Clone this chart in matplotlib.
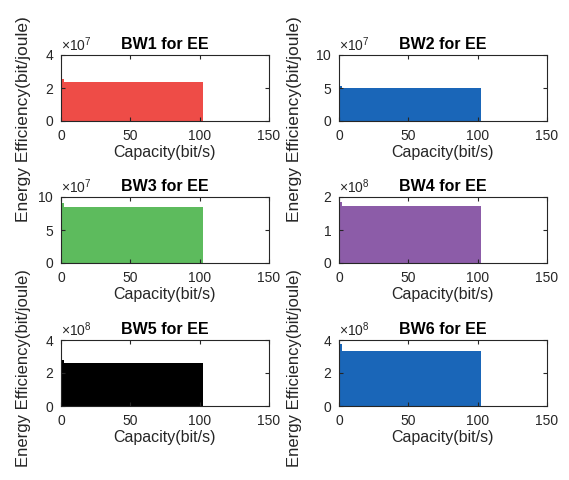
import numpy as np
import matplotlib
matplotlib.use("Agg")
import matplotlib.pyplot as plt
from matplotlib.ticker import ScalarFormatter

plt.rcParams['font.family'] = ['Liberation Sans', 'DejaVu Sans']
plt.rcParams['mathtext.fontset'] = 'custom'
plt.rcParams['mathtext.rm'] = 'Liberation Sans'
plt.rcParams['mathtext.default'] = 'regular'

# data
titles = ['BW1 for EE', 'BW2 for EE', 'BW3 for EE', 'BW4 for EE', 'BW5 for EE', 'BW6 for EE']
capacity = np.arange(1, 103)          # bit/s
n_peak = 2                            # first bars sit a bit higher
ee_peak = [2.55e7, 5.3e7, 9.1e7, 1.84e8, 2.78e8, 3.75e8]
ee_level = [2.38e7, 4.95e7, 8.5e7, 1.72e8, 2.58e8, 3.35e8]
y_max = [4e7, 10e7, 10e7, 2e8, 4e8, 4e8]
y_ticks = [[0, 2e7, 4e7], [0, 5e7, 10e7], [0, 5e7, 10e7],
           [0, 1e8, 2e8], [0, 2e8, 4e8], [0, 2e8, 4e8]]
exponent = [7, 7, 7, 8, 8, 8]
colors = ['#EE4C47', '#1A66B8', '#5DBB5D', '#8C5CA8', '#000000', '#1A66B8']

gray = '#262626'
fig = plt.figure(figsize=(5.69, 4.80), dpi=100)
W, H = 569, 480

lefts = [61, 339]
tops = [55, 197, 340]
aw, ah = 208, 66

for i in range(6):
    r, c = divmod(i, 2)
    ax = fig.add_axes([lefts[c] / W, 1 - (tops[r] + ah) / H, aw / W, ah / H])
    ee = np.r_[np.full(n_peak, ee_peak[i]), np.full(len(capacity) - n_peak, ee_level[i])]
    ax.bar(capacity, ee, width=1.0, color=colors[i], linewidth=0)
    ax.set_xlim(0, 150)
    ax.set_ylim(0, y_max[i])
    ax.set_xticks([0, 50, 100, 150])
    ax.set_yticks(y_ticks[i])
    fmt = ScalarFormatter(useMathText=True)
    fmt.set_powerlimits((exponent[i], exponent[i]))
    ax.yaxis.set_major_formatter(fmt)
    ax.yaxis.get_offset_text().set_fontsize(10)
    ax.yaxis.get_offset_text().set_color(gray)
    ax.tick_params(direction='in', top=True, right=True, length=3, width=0.8,
                   labelsize=10, colors=gray)
    ax.tick_params(axis='x', pad=6)
    ax.tick_params(axis='y', pad=5)
    for s in ax.spines.values():
        s.set_color(gray)
        s.set_linewidth(0.8)
    ax.set_title(titles[i], fontsize=11.5, fontweight='bold', pad=4)
    ax.set_xlabel('Capacity(bit/s)', fontsize=11.5, color=gray, labelpad=1)

# y labels as they sit in the original (one runs off the top, one lower down)
for xc in [24, 295]:
    fig.text(xc / W, 1 - 222 / H, 'Energy Efficiency(bit/joule)', rotation=90,
             ha='center', va='bottom', fontsize=12.5, color=gray)
    fig.text(xc / W, 1 - 368 / H, 'Energy Efficiency(bit/joule)', rotation=90,
             ha='center', va='center', fontsize=12, color=gray)

fig.savefig('out.png', dpi=100)
